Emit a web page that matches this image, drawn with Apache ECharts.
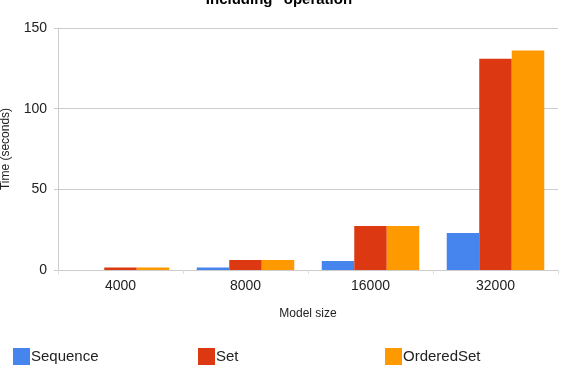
<!DOCTYPE html>
<html>
<head>
<meta charset="utf-8">
<script src="https://cdn.jsdelivr.net/npm/echarts@6/dist/echarts.min.js"></script>
<style>
  html, body { margin: 0; padding: 0; background: #fff; }
  #chart { width: 565px; height: 378px; }
</style>
</head>
<body>
<div id="chart"></div>
<script>
// data
const sizes = ['4000', '8000', '16000', '32000'];
const sequence = [0, 1.5, 5.6, 23];
const setTimes = [1.5, 6.2, 27.3, 131];
const orderedSet = [1.5, 6.2, 27.3, 136];
const yTicks = [0, 50, 100, 150];

const colors = ['#4684ee', '#dc3912', '#ff9900'];
const font = 'Arial, "Liberation Sans", sans-serif';

const chart = echarts.init(document.getElementById('chart'));

function legendAt(name, left) {
  return {
    data: [name],
    left: left,
    top: 343,
    icon: 'rect',
    itemWidth: 17,
    itemHeight: 17,
    itemGap: 0,
    selectedMode: false,
    textStyle: { fontFamily: font, fontSize: 15, color: '#222', padding: [0, 0, 0, -4] }
  };
}

const option = {
  animation: false,
  color: colors,
  title: {
    text: 'Including "operation"',
    left: 'center',
    top: -13,
    textStyle: { fontFamily: font, fontSize: 15, fontWeight: 'bold', color: '#000' }
  },
  legend: [
    legendAt('Sequence', 8),
    legendAt('Set', 193),
    legendAt('OrderedSet', 380)
  ],
  grid: { left: 58, right: 7, top: 28, bottom: 108, containLabel: false, outerBoundsMode: 'none' },
  xAxis: {
    type: 'category',
    data: sizes,
    name: 'Model size',
    nameLocation: 'middle',
    nameGap: 38,
    nameTextStyle: { fontFamily: font, fontSize: 12, color: '#222' },
    axisLine: { lineStyle: { color: '#ccc' } },
    axisTick: { show: true, length: 4, lineStyle: { color: '#ddd' } },
    axisLabel: { fontFamily: font, fontSize: 14, color: '#222', margin: 9 }
  },
  yAxis: {
    type: 'value',
    min: 0,
    max: 150,
    interval: 50,
    name: 'Time (seconds)',
    nameLocation: 'middle',
    nameGap: 46,
    nameTextStyle: { fontFamily: font, fontSize: 12, color: '#222' },
    axisLine: { show: true, lineStyle: { color: '#ccc' } },
    axisTick: { show: true, length: 4, lineStyle: { color: '#ccc' } },
    axisLabel: { fontFamily: font, fontSize: 14, color: '#222', margin: 11,
      formatter: v => yTicks.includes(v) ? String(v) : '' },
    splitLine: { lineStyle: { color: '#ccc' } }
  },
  series: [
    { name: 'Sequence', type: 'bar', data: sequence, barGap: '0%', barCategoryGap: '22%' },
    { name: 'Set', type: 'bar', data: setTimes, barGap: '0%', barCategoryGap: '22%' },
    { name: 'OrderedSet', type: 'bar', data: orderedSet, barGap: '0%', barCategoryGap: '22%' }
  ]
};

chart.setOption(option);
</script>
</body>
</html>
